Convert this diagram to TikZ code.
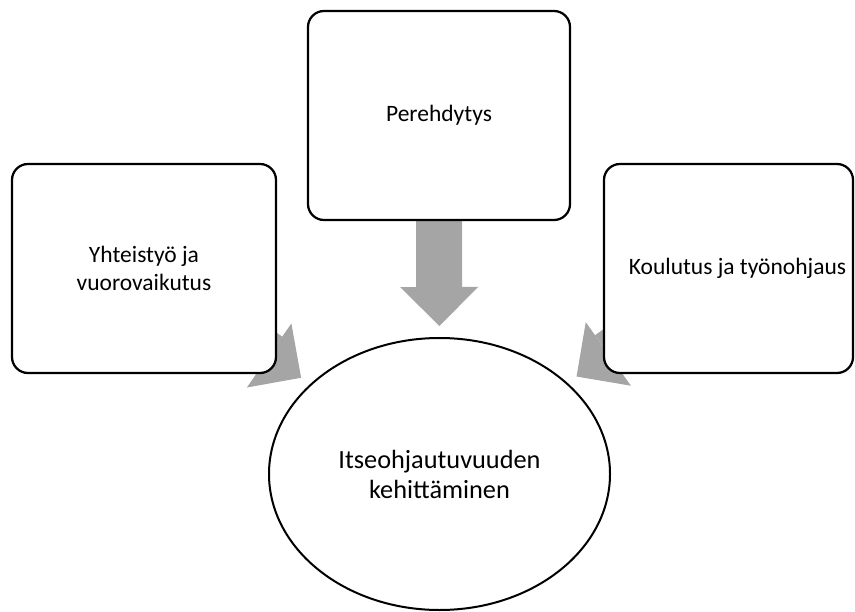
\documentclass[tikz,border=0pt]{standalone}
\usepackage{fontspec}
\setmainfont{Carlito}
\usetikzlibrary{arrows.meta,shapes.geometric}
\pgfdeclarelayer{bg}
\pgfsetlayers{bg,main}
\definecolor{arrowgrey}{RGB}{165,165,165}
\tikzset{
  card/.style={draw=black, line width=2.25bp, fill=white, rounded corners=16bp,
    inner xsep=2bp, minimum height=209bp,
    font=\fontsize{23.5bp}{28bp}\selectfont, align=center},
  goal/.style={ellipse, draw=black, line width=2bp, fill=white,
    minimum width=341bp, minimum height=272bp, inner sep=0pt,
    font=\fontsize{26.3bp}{30bp}\selectfont, align=center},
  feed/.style={draw=arrowgrey, line width=46bp,
    -{Triangle[length=39bp,width=78bp,line width=0pt]}, shorten >=11bp}
}
\begin{document}
\begin{tikzpicture}[x=1bp,y=-1bp]
\useasboundingbox (0,0) rectangle (855,612);

% source boxes
\node[card, minimum width=262bp] (perehdytys) at (439,115.5) {Perehdytys};
\node[card, minimum width=264bp] (yhteistyo) at (144,268.5) {Yhteistyö ja\\vuorovaikutus};
\node[card, minimum width=249bp] (koulutus) at (728.5,268.5) {\hspace*{18bp}Koulutus ja työnohjaus};

% central goal
\node[goal] (kehitys) at (439.5,474) {Itseohjautuvuuden\\kehittäminen};

% block arrows, tucked behind the boxes
\begin{pgfonlayer}{bg}
  \draw[feed] (perehdytys.center) -- (kehitys);
  \draw[feed] (yhteistyo.center) -- (kehitys);
  \draw[feed] (koulutus.center) -- (kehitys);
\end{pgfonlayer}
\end{tikzpicture}
\end{document}
